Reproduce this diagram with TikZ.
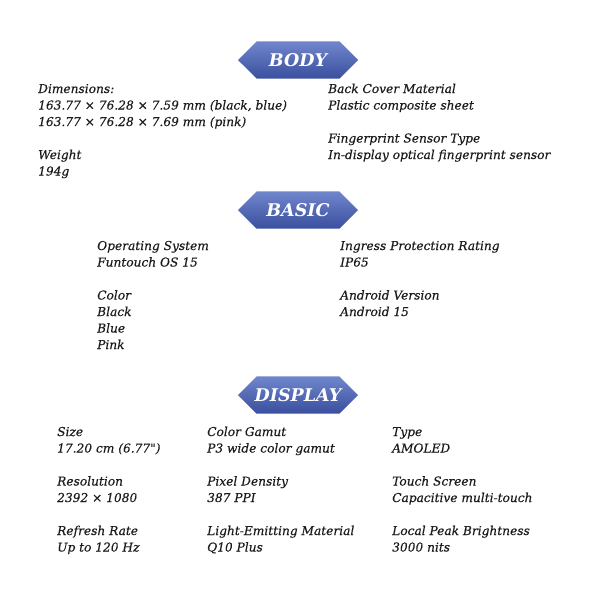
\documentclass[tikz,border=0pt]{standalone}
\usepackage{fontspec}
\setmainfont{DejaVu Serif}
\newfontfamily\specfont{DejaVu Serif}[FakeBold=0.35]
\usetikzlibrary{shapes.misc}
\definecolor{txt}{HTML}{1C1C1C}
\definecolor{bantop}{HTML}{7086CC}
\definecolor{banbot}{HTML}{3A4F9E}
\tikzset{
  banner/.style={chamfered rectangle, chamfered rectangle xsep=7pt, chamfered rectangle ysep=12pt,
    minimum width=120pt, minimum height=24pt, inner sep=0pt, top color=bantop, bottom color=banbot,
    draw=none, text=white, font=\fontsize{17.5}{20}\selectfont\bfseries\itshape},
  spec/.style={anchor=base west, inner sep=0pt, text=txt, font=\specfont\fontsize{12.2}{14}\selectfont\itshape}
}
\begin{document}
\begin{tikzpicture}[x=1pt,y=-1pt]
\useasboundingbox[fill=white] (0,0) rectangle (600,600);
% banners
\node[banner] (body) at (298,60) {BODY};
\node[banner] (basic) at (298,210) {BASIC};
\node[banner] (display) at (298,395) {DISPLAY};
% BODY left
\node[spec] (b1) at (38,93) {Dimensions:};
\node[spec] (b2) at (38,109.5) {163.77 × 76.28 × 7.59 mm (black, blue)};
\node[spec] (b3) at (38,126) {163.77 × 76.28 × 7.69 mm (pink)};
\node[spec] (b4) at (38,159) {Weight};
\node[spec] (b5) at (38,175.5) {194g};
% BODY right
\node[spec] (b6) at (328,93) {Back Cover Material};
\node[spec] (b7) at (328,109.5) {Plastic composite sheet};
\node[spec] (b8) at (328,142.5) {Fingerprint Sensor Type};
\node[spec] (b9) at (328,159) {In-display optical fingerprint sensor};
% BASIC left
\node[spec] (c1) at (97,250) {Operating System};
\node[spec] (c2) at (97,266.5) {Funtouch OS 15};
\node[spec] (c3) at (97,299.5) {Color};
\node[spec] (c4) at (97,316) {Black};
\node[spec] (c5) at (97,332.5) {Blue};
\node[spec] (c6) at (97,349) {Pink};
% BASIC right
\node[spec] (c7) at (340,250) {Ingress Protection Rating};
\node[spec] (c8) at (340,266.5) {IP65};
\node[spec] (c9) at (340,299.5) {Android Version};
\node[spec] (c10) at (340,316) {Android 15};
% DISPLAY col 1
\node[spec] (d1) at (57,436) {Size};
\node[spec] (d2) at (57,452.5) {17.20 cm (6.77")};
\node[spec] (d3) at (57,485.5) {Resolution};
\node[spec] (d4) at (57,502) {2392 × 1080};
\node[spec] (d5) at (57,535) {Refresh Rate};
\node[spec] (d6) at (57,551.5) {Up to 120 Hz};
% DISPLAY col 2
\node[spec] (d7) at (207,436) {Color Gamut};
\node[spec] (d8) at (207,452.5) {P3 wide color gamut};
\node[spec] (d9) at (207,485.5) {Pixel Density};
\node[spec] (d10) at (207,502) {387 PPI};
\node[spec] (d11) at (207,535) {Light-Emitting Material};
\node[spec] (d12) at (207,551.5) {Q10 Plus};
% DISPLAY col 3
\node[spec] (d13) at (392,436) {Type};
\node[spec] (d14) at (392,452.5) {AMOLED};
\node[spec] (d15) at (392,485.5) {Touch Screen};
\node[spec] (d16) at (392,502) {Capacitive multi-touch};
\node[spec] (d17) at (392,535) {Local Peak Brightness};
\node[spec] (d18) at (392,551.5) {3000 nits};
\end{tikzpicture}
\end{document}
